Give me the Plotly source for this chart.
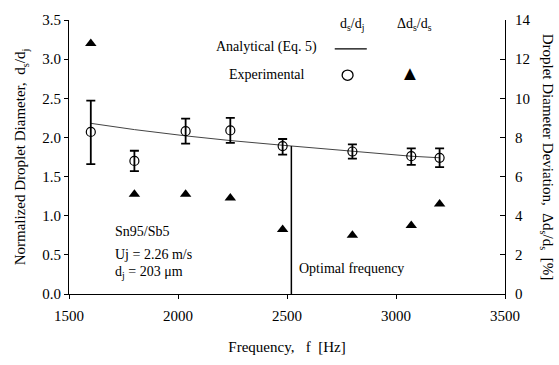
import plotly.graph_objects as go

# Data
freq_exp = [1600, 1800, 2035, 2240, 2480, 2800, 3070, 3200]
ds_dj = [2.07, 1.70, 2.08, 2.09, 1.89, 1.82, 1.76, 1.74]
err_plus = [0.40, 0.13, 0.16, 0.16, 0.09, 0.09, 0.10, 0.12]
err_minus = [0.41, 0.13, 0.16, 0.16, 0.11, 0.09, 0.11, 0.12]
freq_an = [1600, 1800, 2035, 2240, 2480, 2800, 3070, 3200]
ds_dj_an = [2.18, 2.10, 2.02, 1.96, 1.90, 1.82, 1.76, 1.74]
dev_pct = [12.8, 5.1, 5.1, 4.9, 3.3, 3.0, 3.5, 4.6]
opt_freq = 2520
opt_ds_dj = 1.89

FONT = "Times New Roman, Liberation Serif, DejaVu Serif, serif"
fig = go.Figure()

fig.add_trace(go.Scatter(x=freq_an, y=ds_dj_an, mode="lines",
                         line=dict(color="#444", width=1), showlegend=False))
fig.add_trace(go.Scatter(x=[opt_freq, opt_freq], y=[0, opt_ds_dj], mode="lines",
                         line=dict(color="black", width=1.5), showlegend=False))
fig.add_trace(go.Scatter(x=freq_exp, y=ds_dj, mode="markers",
                         marker=dict(symbol="circle-open", size=9, color="black",
                                     line=dict(width=1.2, color="black")),
                         error_y=dict(type="data", array=err_plus, arrayminus=err_minus,
                                      color="black", thickness=1.8, width=4.5),
                         showlegend=False))
fig.add_trace(go.Scatter(x=freq_exp, y=dev_pct, mode="markers", yaxis="y2",
                         marker=dict(symbol="triangle-up", size=10, color="black"),
                         showlegend=False))

fig.update_layout(
    width=559, height=365,
    margin=dict(l=69, r=54, t=15, b=63),
    plot_bgcolor="white", paper_bgcolor="white",
    font=dict(family=FONT, size=15, color="black"),
    xaxis=dict(range=[1500, 3500], tickvals=[1500, 2000, 2500, 3000, 3500],
               showgrid=False, zeroline=False, showline=True, linecolor="black",
               linewidth=1.2, ticks="outside", ticklen=4, tickcolor="black",
               ticklabelstandoff=4,
               title=dict(text="Frequency,   f  [Hz]", font=dict(size=15), standoff=18)),
    yaxis=dict(range=[0, 3.5], dtick=0.5, tickformat=".1f",
               showgrid=False, zeroline=False, showline=True, linecolor="black",
               linewidth=1.2, ticks="outside", ticklen=4, tickcolor="black",
               title=dict(text="Normalized Droplet Diameter,  d<sub>s</sub>/d<sub>j</sub>",
                          font=dict(size=15), standoff=12)),
    yaxis2=dict(range=[0, 14], dtick=2, overlaying="y", side="right", anchor="x",
                showgrid=False, zeroline=False, showline=True, linecolor="black",
                linewidth=1.2, ticks="inside", ticklen=5, tickcolor="black",
                ticklabelstandoff=6),
)

ann = []
ann.append(dict(xref="paper", yref="paper", x=1.097, y=0.5, xanchor="center", yanchor="middle",
                text="Droplet Diameter Deviation,  Δd<sub>s</sub>/d<sub>s</sub>  [%]",
                textangle=90, showarrow=False, font=dict(size=15)))
ann.append(dict(x=1700, y=0.80, xref="x", yref="y", xanchor="left", yanchor="middle",
                text="Sn95/Sb5", showarrow=False, font=dict(size=14)))
ann.append(dict(x=1700, y=0.51, xref="x", yref="y", xanchor="left", yanchor="middle",
                text="Uj = 2.26 m/s", showarrow=False, font=dict(size=14)))
ann.append(dict(x=1700, y=0.28, xref="x", yref="y", xanchor="left", yanchor="middle",
                text="d<sub>j</sub> = 203 μm", showarrow=False, font=dict(size=14)))
ann.append(dict(x=2545, y=0.32, xref="x", yref="y", xanchor="left", yanchor="middle",
                text="Optimal frequency", showarrow=False, font=dict(size=14)))
# legend
ann.append(dict(x=2797, y=3.44, xref="x", yref="y", xanchor="center", yanchor="middle",
                text="d<sub>s</sub>/d<sub>j</sub>", showarrow=False, font=dict(size=14)))
ann.append(dict(x=3086, y=3.44, xref="x", yref="y", xanchor="center", yanchor="middle",
                text="Δd<sub>s</sub>/d<sub>s</sub>", showarrow=False, font=dict(size=14)))
ann.append(dict(x=2645, y=3.16, xref="x", yref="y", xanchor="right", yanchor="middle",
                text="Analytical (Eq. 5)", showarrow=False, font=dict(size=14)))
ann.append(dict(x=2590, y=2.80, xref="x", yref="y", xanchor="right", yanchor="middle",
                text="Experimental", showarrow=False, font=dict(size=14)))
ann.append(dict(x=3063, y=2.82, xref="x", yref="y", xanchor="center", yanchor="middle",
                text="▲", showarrow=False, font=dict(size=20)))
fig.update_layout(annotations=ann)

fig.add_shape(type="line", xref="x", yref="y", x0=2719, x1=2866, y0=3.13, y1=3.13,
              line=dict(color="black", width=1.2))
fig.add_shape(type="circle", xref="x", yref="y", x0=2753, x1=2803, y0=2.73, y1=2.86,
              line=dict(color="black", width=1.3))

fig.write_html("out.html")
